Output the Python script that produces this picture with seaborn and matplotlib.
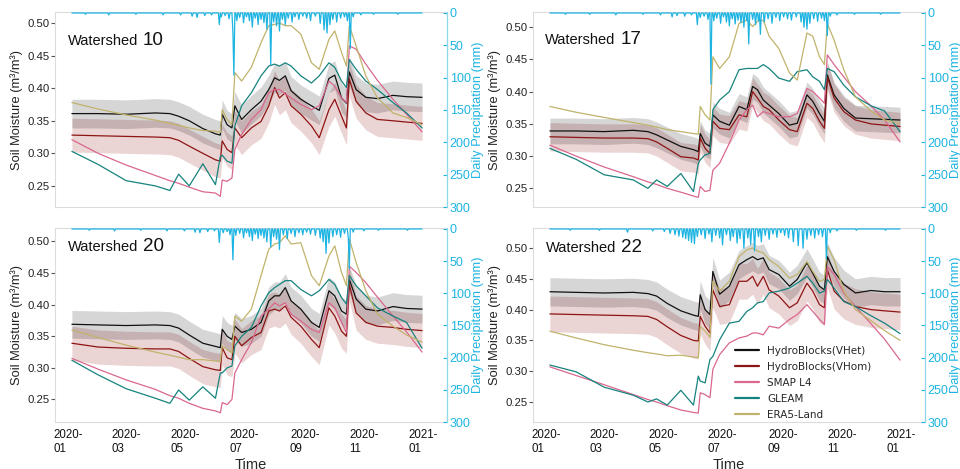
import numpy as np
import pandas as pd
import matplotlib
matplotlib.use("Agg")
import matplotlib.pyplot as plt
from matplotlib.lines import Line2D
import seaborn as sns

# ---------------- data ----------------
knot_days = [4, 31, 60, 90, 105, 114, 125, 139, 152, 157, 159, 164, 169, 172, 179, 189,
             199, 207, 213, 218, 224, 230, 240, 251, 259, 269, 275, 282, 287, 290, 297,
             307, 319, 335, 349, 365]

products = ["HydroBlocks(VHet)", "HydroBlocks(VHom)", "SMAP L4", "GLEAM", "ERA5-Land"]
watersheds = ["10", "17", "20", "22"]

vhet_10 = [0.361, 0.361, 0.360, 0.362, 0.361, 0.357, 0.350, 0.338, 0.330, 0.328, 0.360, 0.344, 0.339, 0.373, 0.352, 0.367, 0.380, 0.398, 0.416, 0.412, 0.419, 0.396, 0.383, 0.373, 0.366, 0.415, 0.420, 0.385, 0.377, 0.425, 0.398, 0.386, 0.384, 0.389, 0.387, 0.386]
vhom_10 = [0.328, 0.327, 0.326, 0.325, 0.324, 0.320, 0.311, 0.300, 0.290, 0.288, 0.319, 0.306, 0.301, 0.339, 0.324, 0.339, 0.349, 0.373, 0.401, 0.385, 0.393, 0.373, 0.360, 0.342, 0.324, 0.367, 0.383, 0.357, 0.339, 0.414, 0.380, 0.362, 0.352, 0.350, 0.348, 0.346]
smap_10 = [0.321, 0.300, 0.282, 0.266, 0.258, 0.254, 0.248, 0.241, 0.239, 0.234, 0.259, 0.257, 0.262, 0.306, 0.329, 0.352, 0.367, 0.393, 0.398, 0.398, 0.391, 0.385, 0.375, 0.367, 0.373, 0.411, 0.403, 0.385, 0.378, 0.465, 0.460, 0.437, 0.412, 0.383, 0.360, 0.333]
gleam_10 = [0.303, 0.283, 0.258, 0.250, 0.243, 0.268, 0.250, 0.284, 0.252, 0.295, 0.297, 0.288, 0.285, 0.342, 0.373, 0.393, 0.419, 0.434, 0.437, 0.434, 0.439, 0.434, 0.419, 0.408, 0.419, 0.439, 0.432, 0.411, 0.401, 0.444, 0.429, 0.411, 0.398, 0.378, 0.362, 0.339]
era5_10 = [0.378, 0.368, 0.359, 0.351, 0.346, 0.343, 0.339, 0.335, 0.334, 0.332, 0.367, 0.352, 0.344, 0.424, 0.411, 0.432, 0.470, 0.496, 0.498, 0.500, 0.496, 0.496, 0.483, 0.439, 0.429, 0.475, 0.488, 0.455, 0.434, 0.496, 0.465, 0.419, 0.385, 0.362, 0.355, 0.344]

vhet_17 = [0.339, 0.339, 0.338, 0.340, 0.338, 0.333, 0.325, 0.315, 0.310, 0.307, 0.335, 0.320, 0.315, 0.364, 0.354, 0.348, 0.377, 0.372, 0.408, 0.403, 0.387, 0.379, 0.366, 0.348, 0.351, 0.395, 0.385, 0.366, 0.354, 0.426, 0.395, 0.374, 0.359, 0.358, 0.357, 0.356]
vhom_17 = [0.330, 0.329, 0.328, 0.328, 0.327, 0.322, 0.312, 0.299, 0.297, 0.294, 0.328, 0.312, 0.304, 0.354, 0.343, 0.341, 0.364, 0.361, 0.400, 0.390, 0.377, 0.372, 0.356, 0.341, 0.338, 0.382, 0.374, 0.354, 0.343, 0.423, 0.390, 0.369, 0.356, 0.350, 0.348, 0.346]
smap_17 = [0.317, 0.300, 0.283, 0.268, 0.260, 0.256, 0.250, 0.244, 0.238, 0.236, 0.253, 0.245, 0.247, 0.278, 0.289, 0.320, 0.356, 0.372, 0.379, 0.361, 0.369, 0.366, 0.361, 0.361, 0.366, 0.405, 0.400, 0.390, 0.382, 0.457, 0.442, 0.423, 0.400, 0.378, 0.356, 0.322]
gleam_17 = [0.312, 0.295, 0.271, 0.263, 0.250, 0.263, 0.253, 0.273, 0.245, 0.289, 0.294, 0.302, 0.304, 0.372, 0.387, 0.400, 0.434, 0.436, 0.436, 0.436, 0.442, 0.436, 0.421, 0.416, 0.431, 0.434, 0.423, 0.416, 0.403, 0.436, 0.431, 0.410, 0.392, 0.378, 0.370, 0.338]
era5_17 = [0.377, 0.368, 0.360, 0.352, 0.348, 0.345, 0.341, 0.338, 0.335, 0.334, 0.377, 0.364, 0.356, 0.454, 0.436, 0.454, 0.506, 0.511, 0.501, 0.509, 0.511, 0.486, 0.467, 0.429, 0.418, 0.491, 0.486, 0.454, 0.442, 0.506, 0.480, 0.434, 0.392, 0.370, 0.356, 0.351]

vhet_20 = [0.369, 0.368, 0.367, 0.368, 0.367, 0.363, 0.352, 0.339, 0.334, 0.332, 0.361, 0.350, 0.345, 0.366, 0.356, 0.361, 0.372, 0.406, 0.414, 0.414, 0.427, 0.406, 0.393, 0.372, 0.364, 0.422, 0.414, 0.390, 0.385, 0.440, 0.409, 0.393, 0.390, 0.397, 0.394, 0.393]
vhom_20 = [0.339, 0.333, 0.331, 0.330, 0.330, 0.326, 0.315, 0.302, 0.297, 0.296, 0.332, 0.316, 0.313, 0.350, 0.335, 0.348, 0.356, 0.390, 0.393, 0.390, 0.398, 0.380, 0.366, 0.345, 0.332, 0.395, 0.382, 0.358, 0.350, 0.432, 0.387, 0.372, 0.366, 0.364, 0.361, 0.359]
smap_20 = [0.315, 0.298, 0.281, 0.266, 0.256, 0.252, 0.244, 0.236, 0.232, 0.229, 0.245, 0.242, 0.250, 0.292, 0.313, 0.340, 0.382, 0.393, 0.403, 0.398, 0.403, 0.385, 0.374, 0.361, 0.356, 0.403, 0.395, 0.372, 0.356, 0.461, 0.451, 0.435, 0.412, 0.382, 0.357, 0.325]
gleam_20 = [0.312, 0.289, 0.267, 0.252, 0.244, 0.265, 0.249, 0.270, 0.252, 0.292, 0.292, 0.300, 0.303, 0.335, 0.350, 0.364, 0.398, 0.419, 0.427, 0.432, 0.438, 0.438, 0.424, 0.414, 0.422, 0.440, 0.432, 0.411, 0.401, 0.446, 0.430, 0.414, 0.395, 0.382, 0.372, 0.331]
era5_20 = [0.360, 0.348, 0.336, 0.325, 0.320, 0.317, 0.313, 0.313, 0.311, 0.310, 0.335, 0.329, 0.324, 0.382, 0.374, 0.393, 0.446, 0.488, 0.496, 0.498, 0.509, 0.496, 0.498, 0.446, 0.430, 0.477, 0.493, 0.451, 0.430, 0.504, 0.467, 0.422, 0.385, 0.366, 0.352, 0.341]

vhet_22 = [0.429, 0.428, 0.427, 0.428, 0.426, 0.422, 0.410, 0.398, 0.391, 0.389, 0.424, 0.400, 0.392, 0.462, 0.425, 0.438, 0.473, 0.481, 0.486, 0.481, 0.484, 0.465, 0.457, 0.438, 0.449, 0.476, 0.459, 0.438, 0.432, 0.486, 0.462, 0.441, 0.427, 0.431, 0.429, 0.429]
vhom_22 = [0.393, 0.392, 0.391, 0.390, 0.389, 0.384, 0.372, 0.358, 0.350, 0.349, 0.389, 0.373, 0.362, 0.432, 0.405, 0.408, 0.446, 0.446, 0.454, 0.438, 0.454, 0.432, 0.422, 0.403, 0.411, 0.443, 0.430, 0.408, 0.403, 0.465, 0.430, 0.414, 0.405, 0.400, 0.398, 0.396]
smap_22 = [0.307, 0.293, 0.278, 0.262, 0.254, 0.250, 0.244, 0.237, 0.233, 0.232, 0.265, 0.262, 0.257, 0.303, 0.327, 0.346, 0.354, 0.357, 0.362, 0.362, 0.359, 0.373, 0.370, 0.384, 0.392, 0.408, 0.397, 0.384, 0.376, 0.470, 0.457, 0.427, 0.405, 0.377, 0.352, 0.318]
gleam_22 = [0.310, 0.299, 0.274, 0.261, 0.250, 0.255, 0.245, 0.269, 0.245, 0.292, 0.284, 0.281, 0.319, 0.324, 0.351, 0.378, 0.381, 0.397, 0.403, 0.411, 0.413, 0.427, 0.430, 0.435, 0.443, 0.454, 0.443, 0.427, 0.430, 0.449, 0.435, 0.413, 0.405, 0.390, 0.378, 0.361]
era5_22 = [0.365, 0.354, 0.343, 0.334, 0.330, 0.328, 0.325, 0.326, 0.323, 0.322, 0.373, 0.365, 0.355, 0.446, 0.430, 0.446, 0.486, 0.497, 0.500, 0.495, 0.492, 0.481, 0.470, 0.451, 0.457, 0.478, 0.462, 0.446, 0.449, 0.503, 0.481, 0.430, 0.400, 0.382, 0.366, 0.350]

# half-width of the ensemble bands, one per watershed
vhet_halfwidth = [0.022, 0.020, 0.022, 0.023]
vhom_halfwidth = [0.026, 0.022, 0.027, 0.029]

# daily precipitation: rainy days (day of 2020) and amounts (mm); all other days are dry
rain_days_10 = [18, 42, 70, 98, 116, 128, 133, 141, 148, 156, 158, 162, 166, 170, 171, 174, 177, 181, 184, 187, 190, 193, 196, 199, 202, 205, 209, 212, 215, 218, 221, 224, 227, 231, 234, 238, 242, 246, 250, 255, 260, 264, 267, 270, 273, 277, 281, 285, 288, 291, 294, 302, 315, 340]
rain_mm_10 = [2, 3, 2, 3, 3, 5, 7, 4, 3, 18, 6, 4, 9, 30, 96, 12, 7, 15, 6, 12, 22, 8, 18, 10, 15, 25, 80, 14, 20, 28, 10, 18, 8, 14, 6, 10, 5, 8, 12, 5, 16, 26, 31, 18, 10, 14, 8, 6, 12, 55, 6, 3, 2, 2]
rain_days_17 = [20, 45, 72, 100, 118, 130, 135, 143, 150, 156, 159, 163, 167, 170, 173, 176, 180, 183, 186, 189, 192, 195, 198, 201, 204, 207, 209, 213, 216, 219, 221, 225, 229, 233, 237, 241, 245, 249, 253, 258, 263, 266, 269, 272, 276, 280, 284, 287, 290, 293, 300, 318, 345]
rain_mm_17 = [2, 2, 3, 2, 3, 6, 4, 5, 3, 18, 7, 5, 10, 110, 12, 8, 16, 6, 14, 20, 9, 17, 11, 15, 22, 12, 48, 10, 18, 12, 33, 14, 9, 16, 7, 12, 6, 9, 11, 6, 14, 22, 25, 16, 9, 13, 8, 12, 35, 5, 3, 2, 2]
rain_days_20 = [22, 48, 75, 102, 120, 131, 136, 144, 151, 156, 160, 164, 167, 170, 173, 177, 181, 184, 187, 190, 193, 196, 199, 202, 205, 209, 212, 215, 218, 222, 226, 230, 234, 238, 242, 246, 250, 255, 260, 263, 266, 269, 273, 277, 281, 285, 289, 290, 294, 305, 320, 350]
rain_mm_20 = [2, 3, 2, 3, 3, 5, 6, 4, 3, 21, 6, 4, 9, 48, 10, 7, 14, 6, 12, 18, 8, 15, 10, 14, 20, 28, 12, 16, 32, 9, 15, 7, 12, 6, 9, 5, 8, 10, 14, 20, 38, 22, 12, 9, 13, 7, 15, 62, 5, 3, 2, 2]
rain_days_22 = [25, 55, 84, 110, 122, 128, 133, 137, 141, 144, 147, 150, 153, 156, 160, 164, 168, 171, 175, 179, 182, 186, 190, 193, 197, 200, 204, 208, 211, 215, 219, 222, 226, 230, 234, 238, 242, 246, 250, 255, 260, 265, 269, 273, 277, 281, 285, 289, 293, 300, 320, 350]
rain_mm_22 = [2, 2, 5, 3, 4, 7, 9, 11, 13, 15, 18, 21, 23, 12, 9, 15, 8, 20, 10, 14, 25, 9, 18, 12, 22, 15, 30, 14, 24, 34, 12, 20, 10, 16, 8, 13, 6, 10, 14, 20, 26, 30, 16, 10, 14, 9, 12, 46, 6, 3, 2, 2]

tick_dates = ["2020-01-01", "2020-03-01", "2020-05-01", "2020-07-01", "2020-09-01", "2020-11-01", "2021-01-01"]
tick_labels = ["2020-\n01", "2020-\n03", "2020-\n05", "2020-\n07", "2020-\n09", "2020-\n11", "2021-\n01"]
sm_ticks = [0.25, 0.30, 0.35, 0.40, 0.45, 0.50]
pr_ticks = [0, 50, 100, 150, 200, 250, 300]

# ---------------- assemble ----------------
soil = {
    "10": [vhet_10, vhom_10, smap_10, gleam_10, era5_10],
    "17": [vhet_17, vhom_17, smap_17, gleam_17, era5_17],
    "20": [vhet_20, vhom_20, smap_20, gleam_20, era5_20],
    "22": [vhet_22, vhom_22, smap_22, gleam_22, era5_22],
}
rain = {
    "10": (rain_days_10, rain_mm_10),
    "17": (rain_days_17, rain_mm_17),
    "20": (rain_days_20, rain_mm_20),
    "22": (rain_days_22, rain_mm_22),
}

colors = {
    "HydroBlocks(VHet)": "#111111",
    "HydroBlocks(VHom)": "#8e1414",
    "SMAP L4": "#d9678f",
    "GLEAM": "#16837e",
    "ERA5-Land": "#c0b36b",
}
precip_color = "#1db4e2"

sns.set_style("white")
plt.rcParams["font.family"] = ["Liberation Sans", "DejaVu Sans"]

t0 = pd.Timestamp("2020-01-01")
knot_dates = t0 + pd.to_timedelta(knot_days, unit="D")
daily_days = np.arange(4, 366)
daily_dates = t0 + pd.to_timedelta(daily_days, unit="D")

FW, FH = 960, 469
fig = plt.figure(figsize=(FW / 100, FH / 100), dpi=100)
boxes = [(55, 12, 392, 195), (533, 12, 392, 195), (55, 228, 392, 194), (533, 228, 392, 194)]
ylims = [(0.2176, 0.5170), (0.2210, 0.5236), (0.2144, 0.5213), (0.2175, 0.5325)]
label_pos = [(0.033, 0.83), (0.031, 0.834), (0.033, 0.88), (0.032, 0.876)]
xlim = (pd.Timestamp("2019-12-18 14:00"), pd.Timestamp("2021-01-25 17:00"))

for i, ws in enumerate(watersheds):
    x0, y0, w, h = boxes[i]
    ax = fig.add_axes([x0 / FW, 1 - (y0 + h) / FH, w / FW, h / FH])
    vals = soil[ws]
    vhet = np.array(vals[0])
    vhom = np.array(vals[1])

    ax.fill_between(knot_dates, vhom - vhom_halfwidth[i], vhom + vhom_halfwidth[i],
                    color="#8b0000", alpha=0.17, lw=0)
    ax.fill_between(knot_dates, vhet - vhet_halfwidth[i], vhet + vhet_halfwidth[i],
                    color="black", alpha=0.16, lw=0)

    df = pd.DataFrame({
        "date": np.tile(knot_dates.values, len(products)),
        "value": np.concatenate(vals),
        "product": np.repeat(products, len(knot_days)),
    })
    sns.lineplot(data=df, x="date", y="value", hue="product", hue_order=products,
                 palette=colors, linewidth=0.9, legend=False, estimator=None, ax=ax)

    ax.set_xlim(*xlim)
    ax.set_ylim(*ylims[i])
    ax.set_yticks(sm_ticks)
    ax.set_yticklabels([f"{v:.2f}" for v in sm_ticks])
    ax.set_xticks(pd.to_datetime(tick_dates))
    ax.tick_params(axis="y", left=True, length=3, width=0.8, color="#555555",
                   labelsize=8.2, pad=1, labelcolor="#222222")
    if i >= 2:
        ax.set_xticklabels(tick_labels, multialignment="left")
        ax.tick_params(axis="x", bottom=False, length=0, labelsize=8.3, pad=5,
                       labelcolor="#111111")
        ax.set_xlabel("Time", fontsize=10.5, labelpad=2)
    else:
        ax.tick_params(axis="x", bottom=False, labelbottom=False)
        ax.set_xlabel("")
    ax.set_ylabel("Soil Moisture (m³/m³)", fontsize=9.3, labelpad=3, color="#222222")
    for s in ["top", "bottom", "left"]:
        ax.spines[s].set_color("#dcdcdc")
        ax.spines[s].set_linewidth(0.8)
    ax.spines["right"].set_visible(False)

    # precipitation on an inverted twin axis
    rd, rm = rain[ws]
    daily = pd.Series(0.0, index=daily_days)
    daily.loc[rd] = rm
    pdf = pd.DataFrame({"date": daily_dates, "mm": daily.values})
    ax2 = ax.twinx()
    sns.lineplot(data=pdf, x="date", y="mm", color=precip_color, linewidth=0.9,
                 estimator=None, ax=ax2)
    ax2.set_xlim(*xlim)
    ax2.set_ylim(300, -1.5)
    ax2.set_yticks(pr_ticks)
    ax2.tick_params(axis="y", right=True, direction="in", length=3, width=0.8,
                    color=precip_color, labelcolor=precip_color, labelsize=9, pad=2)
    ax2.set_ylabel("Daily Precipitation (mm)", color=precip_color, fontsize=9.3, labelpad=1)
    ax2.set_xlabel("")
    for s in ["top", "bottom", "left"]:
        ax2.spines[s].set_visible(False)
    ax2.spines["right"].set_color("#8ed6ee")
    ax2.spines["right"].set_linewidth(0.9)

    # watershed label: word in a smaller size, number in a larger size
    lx, ly = label_pos[i]
    t = ax2.text(lx, ly, "Watershed", transform=ax2.transAxes, fontsize=10.5,
                 va="baseline", ha="left", color="#111111")
    fig.canvas.draw()
    bb = t.get_window_extent(renderer=fig.canvas.get_renderer())
    x1 = ax2.transAxes.inverted().transform((bb.x1, bb.y0))[0]
    ax2.text(x1 + 0.012, ly, ws, transform=ax2.transAxes, fontsize=13.5,
             va="baseline", ha="left", color="#111111")

    if ws == "22":
        handles = [Line2D([0], [0], color=colors[p], lw=1.6) for p in products]
        ax2.legend(handles, products, loc="lower left", bbox_to_anchor=(0.515, 0.012),
                   frameon=False, handlelength=2.3, handletextpad=0.8,
                   labelspacing=0.58, borderpad=0, borderaxespad=0,
                   prop={"family": "DejaVu Sans", "size": 7.5})

fig.savefig("out.png", dpi=100)
